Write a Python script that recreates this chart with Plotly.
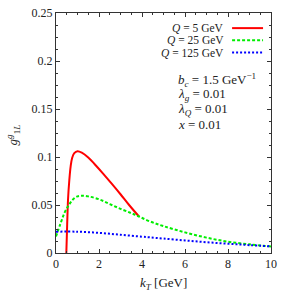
import plotly.graph_objects as go

# Data
red_x = [0.48, 0.52, 0.56, 0.62, 0.68, 0.75, 0.85, 1.0, 1.2, 1.5, 1.8, 2.2, 2.6, 3.0, 3.4, 3.86]
red_y = [0.0, 0.030, 0.056, 0.076, 0.090, 0.099, 0.104, 0.106, 0.1045, 0.0995, 0.0925, 0.0825, 0.072, 0.0612, 0.050, 0.038]

green_x = [0, 0.2, 0.4, 0.6, 0.8, 1.0, 1.2, 1.5, 2.0, 2.5, 3.0, 3.5, 3.86, 4.37, 5, 6, 7, 8, 9, 10]
green_y = [0.0173, 0.030, 0.042, 0.050, 0.056, 0.059, 0.0597, 0.059, 0.056, 0.051, 0.046, 0.0415, 0.038, 0.0329, 0.028, 0.0215, 0.016, 0.0118, 0.009, 0.0069]

blue_x = [0, 1, 2, 3, 4, 4.37, 5, 6, 7, 8, 9, 10]
blue_y = [0.0222, 0.0222, 0.021, 0.019, 0.017, 0.0163, 0.015, 0.0131, 0.0112, 0.0097, 0.0082, 0.0069]

y_ticks = [0, 0.05, 0.1, 0.15, 0.2, 0.25]
y_tick_labels = ["0", "0.05", "0.1", "0.15", "0.2", "0.25"]
x_ticks = [0, 2, 4, 6, 8, 10]
x_tick_labels = ["0", "2", "4", "6", "8", "10"]

legend_labels = ["<i>Q</i> = 5 GeV", "<i>Q</i> = 25 GeV", "<i>Q</i> = 125 GeV"]
param_lines = ["<i>b<sub>c</sub></i> = 1.5 GeV<sup>−1</sup>",
               "<i>λ<sub>g</sub></i> = 0.01",
               "<i>λ<sub>Q</sub></i> = 0.01",
               "<i>x</i> = 0.01"]
x_title = "<i>k<sub>T</sub></i> [GeV]"
y_title = "<i>g</i><sup><i>g</i></sup><sub>1<i>L</i></sub>"

FONT = "Liberation Serif"
AX = "#333333"
TXT = "#222222"

fig = go.Figure()
fig.add_trace(go.Scatter(x=red_x, y=red_y, mode="lines", line=dict(color="#ff0000", width=2, shape="spline"), showlegend=False))
fig.add_trace(go.Scatter(x=green_x, y=green_y, mode="lines", line=dict(color="#00ee00", width=2, dash="3px,2px", shape="spline"), showlegend=False))
fig.add_trace(go.Scatter(x=blue_x, y=blue_y, mode="lines", line=dict(color="#0000ff", width=2, dash="2px,2px", shape="spline"), showlegend=False))

# Legend (text right-aligned, sample on the right)
leg_rows = [0.937, 0.886, 0.835]
leg_styles = [dict(color="#ff0000", width=2),
              dict(color="#00ee00", width=2, dash="3px,2px"),
              dict(color="#0000ff", width=2, dash="2px,2px")]
for lab, yy, st in zip(legend_labels, leg_rows, leg_styles):
    fig.add_annotation(x=0.79, y=yy, xref="paper", yref="paper", text=lab, showarrow=False,
                       xanchor="right", yanchor="middle", font=dict(family=FONT, size=11.5, color=TXT))
    fig.add_shape(type="line", xref="paper", yref="paper", x0=0.819, x1=0.963, y0=yy, y1=yy, line=st)

param_rows = [0.722, 0.661, 0.599, 0.537]
for txt, yy in zip(param_lines, param_rows):
    fig.add_annotation(x=0.56, y=yy, xref="paper", yref="paper", text=txt, showarrow=False,
                       xanchor="left", yanchor="middle", font=dict(family=FONT, size=13, color=TXT))

# Axis titles
fig.add_annotation(x=0.5, y=-0.125, xref="paper", yref="paper", text=x_title, showarrow=False,
                   xanchor="center", yanchor="middle", font=dict(family=FONT, size=13, color=TXT))
fig.add_annotation(x=-0.2, y=0.49, xref="paper", yref="paper", text=y_title, showarrow=False,
                   textangle=-90, xanchor="center", yanchor="middle", font=dict(family=FONT, size=13, color=TXT))

axis_common = dict(showline=True, linecolor=AX, linewidth=1, mirror="allticks", ticks="inside",
                   ticklen=4, tickcolor=AX, showgrid=False, zeroline=False, automargin=False,
                   tickfont=dict(family=FONT, size=12, color=TXT))

fig.update_xaxes(range=[0, 10], tickvals=x_ticks, ticktext=x_tick_labels,
                 minor=dict(dtick=0.5, ticks="inside", ticklen=2, tickcolor=AX),
                 **axis_common)
fig.update_yaxes(range=[0, 0.25], tickvals=y_ticks, ticktext=y_tick_labels,
                 minor=dict(dtick=0.0125, ticks="inside", ticklen=2, tickcolor=AX),
                 **axis_common)

fig.update_layout(width=291, height=291, margin=dict(l=56, r=20, t=13, b=38),
                  plot_bgcolor="white", paper_bgcolor="white", showlegend=False)

fig.write_html("out.html", config={"displayModeBar": False, "staticPlot": True},
               post_script="document.body.style.margin='0';document.body.style.overflow='hidden';")
